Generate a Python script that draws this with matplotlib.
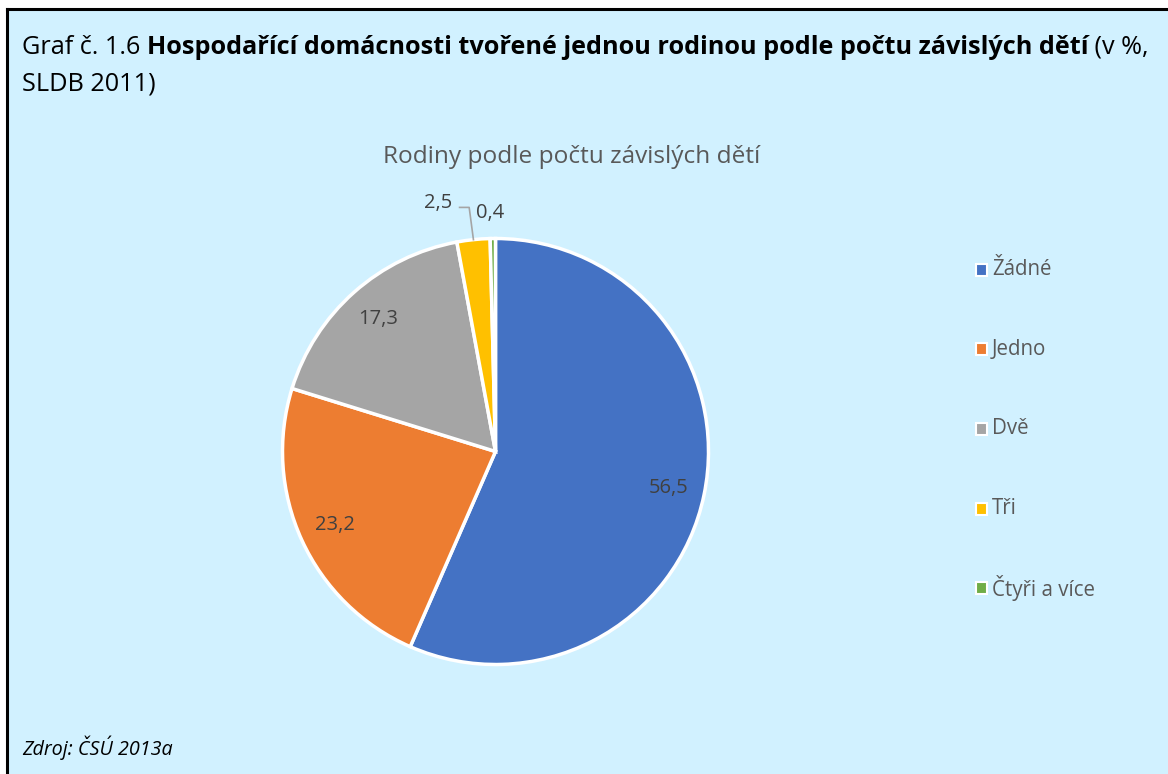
import numpy as np
import matplotlib.pyplot as plt
from matplotlib.patches import Rectangle
from matplotlib.lines import Line2D

# data
categories = ["Žádné", "Jedno", "Dvě", "Tři", "Čtyři a více"]
values = [56.5, 23.2, 17.3, 2.5, 0.4]
value_labels = ["56,5", "23,2", "17,3", "2,5", "0,4"]
colors = ["#4472C4", "#ED7D31", "#A5A5A5", "#FFC000", "#70AD47"]

bg = "#D1F1FF"
W, H = 1168, 774
plt.rcParams['font.family'] = ['Open Sans', 'DejaVu Sans']

fig = plt.figure(figsize=(W / 100, H / 100), dpi=100)
fig.patch.set_facecolor("white")

# light blue panel + black frame (top and left only)
fig.add_artist(Rectangle((7 / W, 0), 1, 1 - 9 / H, transform=fig.transFigure,
                         facecolor=bg, edgecolor="none", zorder=0))
fig.add_artist(Line2D([7 / W, 1], [1 - 9 / H, 1 - 9 / H], transform=fig.transFigure,
                      color="black", lw=2.2))
fig.add_artist(Line2D([7 / W, 7 / W], [0, 1 - 9 / H], transform=fig.transFigure,
                      color="black", lw=2.2))


def px(x, y):
    return x / W, 1 - y / H


# title with bold middle part
renderer = fig.canvas.get_renderer()
tsize = 18.2
x0, y0 = px(22, 47)
t1 = fig.text(x0, y0, "Graf č. 1.6 ", fontsize=tsize, va="center", ha="left")
bb = t1.get_window_extent(renderer)
t2 = fig.text(bb.x1 / W, y0, "Hospodařící domácnosti tvořené jednou rodinou podle počtu závislých dětí",
              fontsize=tsize, fontweight="bold", va="center", ha="left")
bb = t2.get_window_extent(renderer)
fig.text(bb.x1 / W, y0, " (v %,", fontsize=tsize, va="center", ha="left")
fig.text(*px(22, 84), "SLDB 2011)", fontsize=tsize, va="center", ha="left")

# chart title
fig.text(*px(572, 157), "Rodiny podle počtu závislých dětí", fontsize=17.6,
         color="#595959", ha="center", va="center")

# pie
cx, cy, r = 495.5, 451.5, 213
ax = fig.add_axes([(cx - r) / W, 1 - (cy + r) / H, 2 * r / W, 2 * r / H])
ax.set_facecolor("none")
wedges, _ = ax.pie(values, colors=colors, startangle=90, counterclock=False,
                   wedgeprops=dict(edgecolor="white", linewidth=2.5), radius=1)
ax.set_xlim(-1, 1)
ax.set_ylim(-1, 1)
ax.set_aspect("equal")
ax.axis("off")

lab_col = "#404040"
lsize = 14.5
for i, w in enumerate(wedges[:3]):
    ang = np.deg2rad((w.theta1 + w.theta2) / 2)
    rr = 0.83
    ax.text(rr * np.cos(ang), rr * np.sin(ang), value_labels[i], fontsize=lsize,
            color=lab_col, ha="center", va="center")

# outside labels for the small slices
w = wedges[3]
ang = np.deg2rad((w.theta1 + w.theta2) / 2)
ex, ey = np.cos(ang), np.sin(ang)
ax.plot([ex, ex - 0.02, ex - 0.065], [ey, 1.146, 1.146], color="#A5A5A5", lw=1.2,
        clip_on=False)
ax.text(ex - 0.1, 1.165, value_labels[3], fontsize=lsize, color=lab_col,
        ha="right", va="center")
w = wedges[4]
ang = np.deg2rad((w.theta1 + w.theta2) / 2)
ax.text(np.cos(ang) - 0.015, 1.12, value_labels[4], fontsize=lsize, color=lab_col,
        ha="center", va="center")

# legend
for i, (cat, c) in enumerate(zip(categories, colors)):
    ly = 270 + i * 79.5
    fig.add_artist(Rectangle(px(976, ly + 6), 11 / W, 12 / H, transform=fig.transFigure,
                             facecolor=c, edgecolor="white", lw=1.5))
    fig.text(*px(992, ly), cat, fontsize=14.8, color="#595959", ha="left", va="center")

# source
fig.text(*px(22, 748), "Zdroj: ČSÚ 2013a", fontsize=14.2, style="italic",
         ha="left", va="center")

fig.savefig("out.png", dpi=100, facecolor=fig.get_facecolor())
